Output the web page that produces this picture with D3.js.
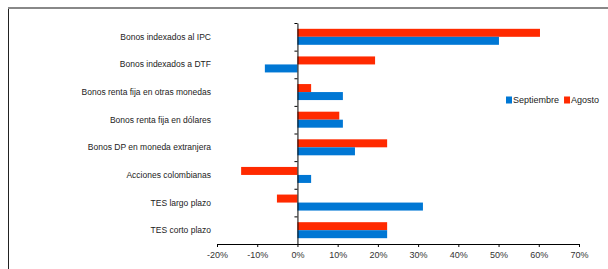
<!DOCTYPE html>
<html>
<head>
<meta charset="utf-8">
<script src="https://cdn.jsdelivr.net/npm/d3@7"></script>
<style>
  body { margin: 0; background: #fff; }
  svg { font-family: "Liberation Sans", Arial, sans-serif; }
</style>
</head>
<body>
<svg id="chart"></svg>
<script>
const width = 608;
const height = 269;

const categories = [
    "Bonos indexados al IPC",
    "Bonos indexados a DTF",
    "Bonos renta fija en otras monedas",
    "Bonos renta fija en dólares",
    "Bonos DP en moneda extranjera",
    "Acciones colombianas",
    "TES largo plazo",
    "TES corto plazo"
];
const agosto = [60.3, 19.3, 3.4, 10.4, 22.3, -14.0, -5.1, 22.3];
const septiembre = [50.1, -8.1, 11.3, 11.3, 14.3, 3.4, 31.2, 22.3];
const seriesNames = ["Agosto", "Septiembre"];
const xTicks = [-20, -10, 0, 10, 20, 30, 40, 50, 60, 70];
const legendOrder = ["Septiembre", "Agosto"];

const colors = { "Septiembre": "#0077d4", "Agosto": "#ff2a00" };

let svg = d3.select('#chart')
    .attr("width", width)
    .attr("height", height);

// frame
svg.append("line")
    .attr("x1", 8).attr("x2", width).attr("y1", 8).attr("y2", 8)
    .attr("stroke", "#888").attr("stroke-width", 2);
svg.append("line")
    .attr("x1", 8.5).attr("x2", 8.5).attr("y1", 9).attr("y2", height)
    .attr("stroke", "#222").attr("stroke-width", 1);

// scales
let xScale = d3.scaleLinear()
    .domain([-20, 70])
    .range([217, 579]);

let yScale = d3.scaleBand()
    .domain(categories)
    .range([23, 244]);

let inner = d3.scaleBand()
    .domain(seriesNames)
    .range([yScale.bandwidth() / 2 - 8, yScale.bandwidth() / 2 + 8]);

let rows = categories.map((c, i) => ({
    cat: c,
    values: [
        { name: "Agosto", v: agosto[i] },
        { name: "Septiembre", v: septiembre[i] }
    ]
}));

// bars
let groups = svg.selectAll("g.row")
    .data(rows)
    .join("g")
    .attr("class", "row")
    .attr("transform", d => "translate(0," + yScale(d.cat) + ")");

groups.selectAll("rect")
    .data(d => d.values)
    .join("rect")
    .attr("x", d => xScale(Math.min(0, d.v)))
    .attr("width", d => Math.abs(xScale(d.v) - xScale(0)))
    .attr("y", d => inner(d.name))
    .attr("height", inner.bandwidth())
    .attr("fill", d => colors[d.name]);

// category labels
svg.selectAll("text.cat")
    .data(categories)
    .join("text")
    .attr("class", "cat")
    .attr("x", 211)
    .attr("y", d => yScale(d) + yScale.bandwidth() / 2)
    .attr("dy", "0.35em")
    .attr("text-anchor", "end")
    .attr("font-size", "8.5px")
    .attr("fill", "#222")
    .text(d => d);

// x axis
let xAxis = d3.axisBottom(xScale)
    .tickValues(xTicks)
    .tickSize(3)
    .tickSizeOuter(0)
    .tickFormat(d => d + "%");
let gx = svg.append("g")
    .attr("class", "x-axis")
    .attr("transform", "translate(0,244)")
    .call(xAxis);
gx.select(".domain").attr("stroke", "#000");
gx.selectAll(".tick line").attr("stroke", "#000");
gx.selectAll(".tick text")
    .attr("y", 8)
    .attr("font-size", "9px")
    .attr("font-family", "Liberation Sans, Arial, sans-serif")
    .attr("fill", "#333");

// y axis at zero with ticks at category boundaries
let yLin = d3.scaleLinear().domain([0, categories.length]).range([23, 244]);
let yAxis = d3.axisLeft(yLin)
    .ticks(categories.length)
    .tickSize(3)
    .tickSizeOuter(0)
    .tickFormat("");
let gy = svg.append("g")
    .attr("class", "y-axis")
    .attr("transform", "translate(" + xScale(0) + ",0)")
    .call(yAxis);
gy.select(".domain").attr("stroke", "#000");
gy.selectAll(".tick line").attr("stroke", "#000");

// legend
let legend = svg.append("g").attr("transform", "translate(506,100)");
let lx = 0;
legendOrder.forEach(name => {
    let item = legend.append("g").attr("transform", "translate(" + lx + ",0)");
    item.append("rect")
        .attr("x", 0).attr("y", -3.5)
        .attr("width", 6).attr("height", 7)
        .attr("fill", colors[name]);
    let t = item.append("text")
        .attr("x", 7)
        .attr("dy", "0.35em")
        .attr("font-size", "9px")
        .attr("fill", "#222")
        .text(name);
    lx += 7 + t.node().getComputedTextLength() + 5;
});
</script>
</body>
</html>
